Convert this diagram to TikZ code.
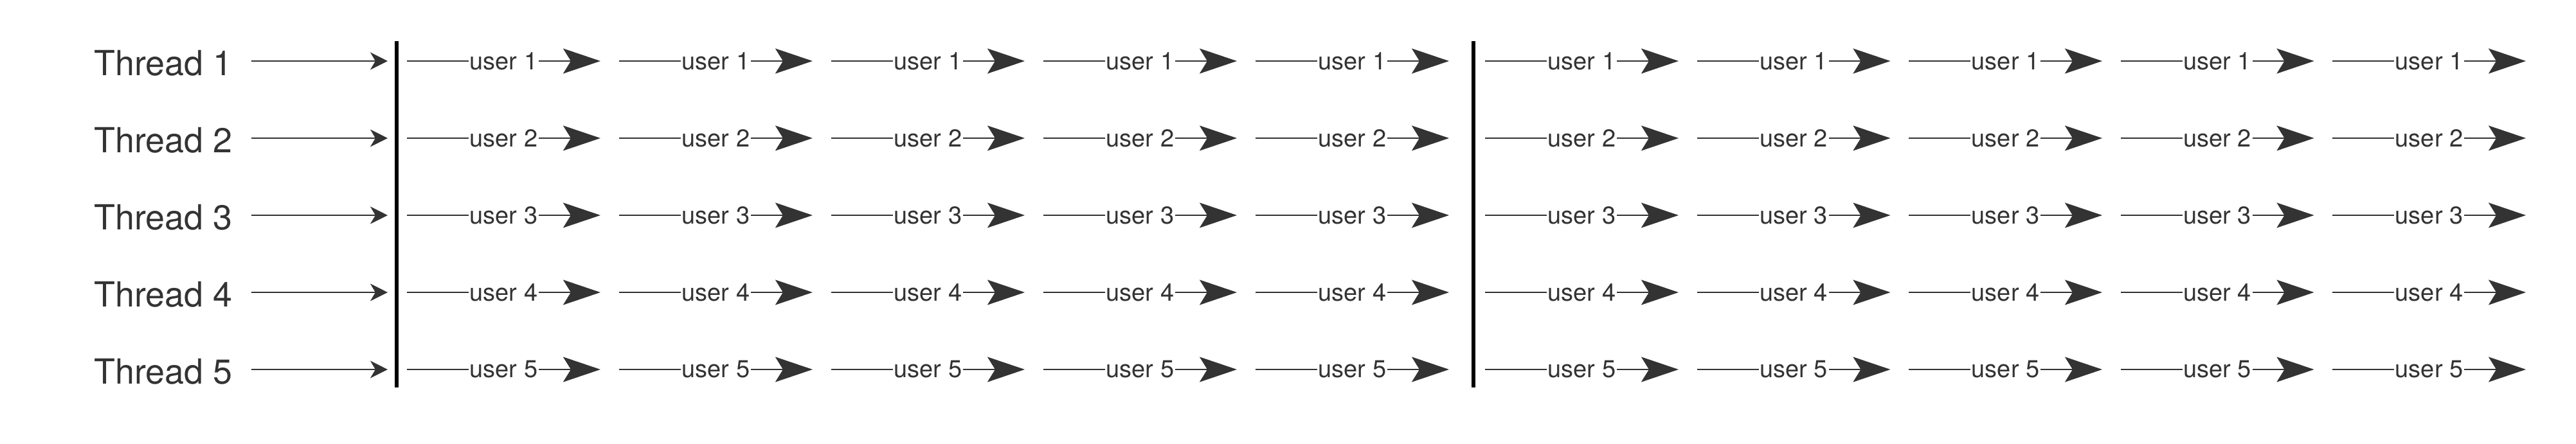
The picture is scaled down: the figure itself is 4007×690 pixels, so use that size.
\documentclass[tikz,border=0pt]{standalone}
\usepackage{fontspec}
\setmainfont{TeX Gyre Heros}
\usetikzlibrary{arrows.meta}
\definecolor{ink}{RGB}{51, 51, 51}

\begin{document}
\begin{tikzpicture}[x=0.01cm, y=-0.01cm,
    thread/.style={anchor=west, inner sep=0pt, text=ink, font=\fontsize{15.3}{18}\selectfont},
    feed/.style={-{Stealth[length=0.27cm, width=0.27cm, inset=0.08cm]}, draw=ink, line width=0.7pt},
    hop/.style={-{Stealth[length=0.58cm, width=0.39cm, inset=0.12cm]}, draw=ink, line width=0.7pt},
    user/.style={midway, fill=white, inner sep=0.5pt, text=ink, font=\fontsize{10.8}{13}\selectfont},
    barline/.style={line width=1.7pt, black}]
  \useasboundingbox (0,0) rectangle (4007,690);

  % Threads
  \foreach \r in {1,...,5} {
    \pgfmathsetmacro{\ry}{95+120*(\r-1)}
    \node[thread] (t\r) at (146,\ry+3) {Thread \r};
    \coordinate (f\r) at (391,\ry);
    \coordinate (g\r) at (603,\ry);
    \draw[feed] (f\r) -- (g\r);
  }

  % Bars
  \coordinate (top1) at (617,64);
  \coordinate (bot1) at (617,603);
  \coordinate (top2) at (2292,64);
  \coordinate (bot2) at (2292,603);
  \draw[barline] (top1) -- (bot1);
  \draw[barline] (top2) -- (bot2);

  % Users
  \foreach \r in {1,...,5} {
    \pgfmathsetmacro{\ry}{95+120*(\r-1)}
    \foreach \k in {0,...,4} {
      \coordinate (a\r\k) at (633+330*\k,\ry);
      \coordinate (b\r\k) at (934+330*\k,\ry);
      \draw[hop] (a\r\k) -- node[user] (u\r\k) {user \r} (b\r\k);
      \coordinate (c\r\k) at (2310+329.5*\k,\ry);
      \coordinate (d\r\k) at (2611+329.5*\k,\ry);
      \draw[hop] (c\r\k) -- node[user] (v\r\k) {user \r} (d\r\k);
    }
  }
\end{tikzpicture}
\end{document}
